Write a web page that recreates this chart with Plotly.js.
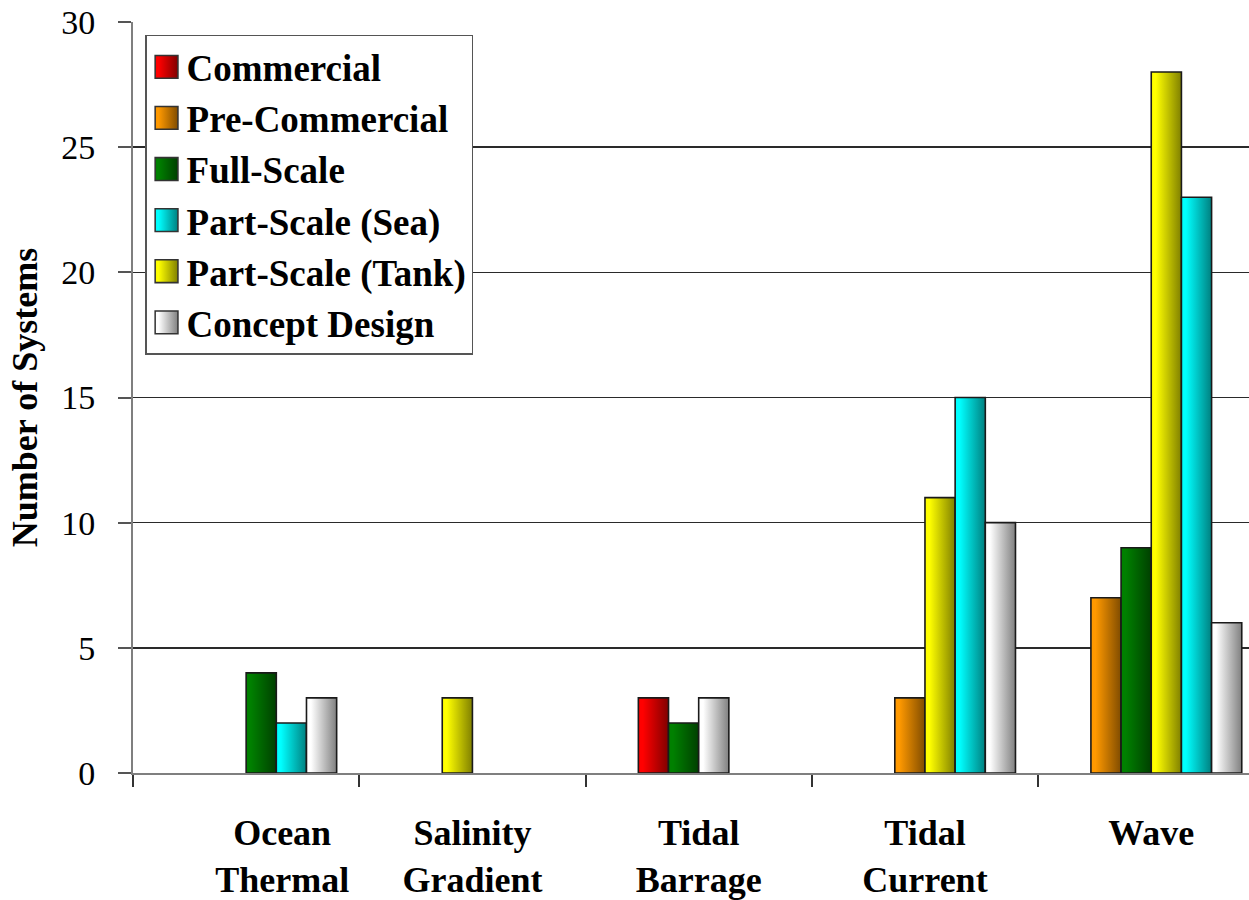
<!DOCTYPE html>
<html>
<head>
<meta charset="utf-8">
<script src="https://cdn.plot.ly/plotly-3.0.1.min.js"></script>
<style>html,body{margin:0;padding:0;background:#fff;overflow:hidden}</style>
</head>
<body>
<div id="chart" style="width:1249px;height:900px"></div>
<script>
// ---- data ----
const NB = '\u00A0\u00A0\u00A0\u00A0\u00A0\u00A0\u00A0\u00A0';
const categories = ['Ocean Thermal', 'Salinity Gradient', 'Tidal Barrage', 'Tidal Current', 'Wave'];
const tickLabels = [NB + 'Ocean<br>' + NB + 'Thermal', 'Salinity<br>Gradient', 'Tidal<br>Barrage', 'Tidal<br>Current', 'Wave'];
const seriesNames = ['Commercial', 'Pre-Commercial', 'Full-Scale', 'Part-Scale (Sea)', 'Part-Scale (Tank)', 'Concept Design'];
const commercial    = [0, 0, 3, 0, 0];
const preCommercial = [0, 0, 0, 3, 7];
const fullScale     = [4, 0, 2, 0, 9];
const partScaleSea  = [2, 0, 0, 15, 23];
const partScaleTank = [0, 3, 0, 11, 28];
const conceptDesign = [3, 0, 3, 10, 6];
const seriesValues = [commercial, preCommercial, fullScale, partScaleSea, partScaleTank, conceptDesign];
// which series sits in each of the six bar slots of a category (index into seriesNames)
const slotLayout = [
  [null, null, null, 2, 3, 5],
  [null, null, 4, null, null, null],
  [null, 0, 2, 5, null, null],
  [null, null, 1, 4, 3, 5],
  [null, 1, 2, 4, 3, 5]
];
const lightColors = ['#FF0000', '#FF9900', '#008000', '#00FFFF', '#FFFF00', '#FFFFFF'];
const darkColors  = ['#800000', '#804C00', '#004000', '#008080', '#808000', '#808080'];

// ---- traces ----
const FONT = 'Liberation Serif';
const traces = [];
for (let k = 0; k < 6; k++) {
  const y = [], col = [];
  categories.forEach((c, ci) => {
    const s = slotLayout[ci][k];
    y.push(s === null ? null : seriesValues[s][ci]);
    col.push(s === null ? '#ffffff' : lightColors[s]);
  });
  traces.push({
    type: 'bar', x: tickLabels, y: y, offsetgroup: 'slot' + k, showlegend: false,
    marker: {color: col, line: {color: '#1a1a1a', width: 1.6}}
  });
}
seriesNames.forEach((name, i) => {
  traces.push({
    type: 'bar', name: name, x: [tickLabels[0]], y: [null], offsetgroup: 'slot0',
    marker: {color: lightColors[i], line: {color: '#333', width: 0.8}}
  });
});

const layout = {
  width: 1249, height: 900,
  margin: {l: 133, r: 0, t: 22, b: 127, pad: 0},
  paper_bgcolor: '#fff', plot_bgcolor: '#fff',
  barmode: 'group', bargap: 0.2, bargroupgap: 0,
  showlegend: true,
  xaxis: {
    type: 'category', range: [-0.5, 4.432], tickson: 'boundaries',
    ticks: 'outside', ticklen: 12, tickwidth: 2, tickcolor: '#333',
    showline: true, linecolor: '#7f7f7f', linewidth: 2,
    showgrid: false, zeroline: false, tickangle: 0, automargin: false,
    ticklabelstandoff: 27,
    tickfont: {family: FONT, size: 36, weight: 700, color: '#000'}
  },
  yaxis: {
    range: [0, 30], tick0: 0, dtick: 5,
    ticks: 'outside', ticklen: 13, tickwidth: 2, tickcolor: '#555',
    showline: true, linecolor: '#7f7f7f', linewidth: 2,
    showgrid: true, gridcolor: '#2a2a2a', gridwidth: 1.5, zeroline: false,
    automargin: false, ticklabelstandoff: 16,
    tickfont: {family: FONT, size: 34, color: '#000'},
    title: {text: 'Number of Systems', standoff: 13, font: {family: FONT, size: 36, weight: 700, color: '#000'}}
  },
  legend: {
    x: 0.0108, y: 0.983, xanchor: 'left', yanchor: 'top',
    bgcolor: '#fff', bordercolor: '#555', borderwidth: 1.5,
    font: {family: FONT, size: 37, weight: 700, color: '#000'},
    tracegroupgap: 0, itemwidth: 30
  }
};

function hexToRgb(h) {
  const n = parseInt(h.slice(1), 16);
  return 'rgb(' + ((n >> 16) & 255) + ', ' + ((n >> 8) & 255) + ', ' + (n & 255) + ')';
}

const gd = document.getElementById('chart');
Plotly.newPlot(gd, traces, layout, {staticPlot: true, displayModeBar: false}).then(function () {
  const ns = 'http://www.w3.org/2000/svg';
  const svg = gd.querySelector('svg.main-svg');
  let defs = svg.querySelector('defs');
  if (!defs) { defs = document.createElementNS(ns, 'defs'); svg.insertBefore(defs, svg.firstChild); }
  const map = {};
  lightColors.forEach((c, i) => {
    const g = document.createElementNS(ns, 'linearGradient');
    g.setAttribute('id', 'bargrad' + i);
    g.setAttribute('x1', '0'); g.setAttribute('y1', '0');
    g.setAttribute('x2', '1'); g.setAttribute('y2', '0');
    [[0, c], [0.15, c], [1, darkColors[i]]].forEach(st => {
      const s = document.createElementNS(ns, 'stop');
      s.setAttribute('offset', st[0]);
      s.setAttribute('stop-color', st[1]);
      g.appendChild(s);
    });
    defs.appendChild(g);
    map[hexToRgb(c)] = 'url(#bargrad' + i + ')';
  });
  gd.querySelectorAll('.barlayer .point path').forEach(p => {
    const f = p.style.fill;
    if (map[f]) p.style.fill = map[f];
  });
  gd.querySelectorAll('.legend .legendpoints path').forEach(p => {
    const f = p.style.fill;
    if (map[f]) p.style.fill = map[f];
    const t = p.getAttribute('transform') || '';
    p.setAttribute('transform', t + ' scale(1.9)');
  });
});
</script>
</body>
</html>
